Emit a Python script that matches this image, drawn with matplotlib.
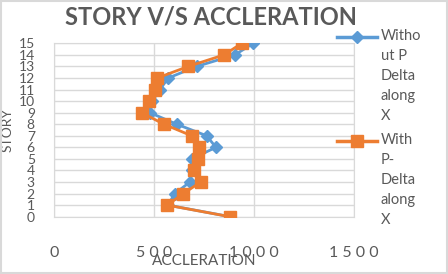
import matplotlib.pyplot as plt
from matplotlib.lines import Line2D
from matplotlib.patches import Rectangle

stories = list(range(16))
accel_without = [880, 568, 603, 678, 690, 687, 808, 762, 612, 478, 490, 528, 570, 712, 903, 995]
accel_with = [878, 565, 645, 732, 698, 720, 725, 687, 548, 437, 475, 503, 515, 670, 849, 937]
x_ticks = [0, 500, 1000, 1500]
label_without = "Witho\nut P\nDelta\nalong\nX"
label_with = "With\nP-\nDelta\nalong\nX"

blue = "#5B9BD5"
orange = "#ED7D31"
grey = "#595959"
grid = "#d9d9d9"

plt.rcParams['font.family'] = ['Lato', 'DejaVu Sans']

fig = plt.figure(figsize=(4.48, 2.74), dpi=100)
ax = fig.add_axes([54.3/448, 1-216.7/274, 300/448, 173.4/274])

ax.plot(accel_without, stories, color=blue, lw=2, marker='D', ms=6.5, zorder=3)
ax.plot(accel_with, stories, color=orange, lw=2, marker='s', ms=9, zorder=4)

ax.set_xlim(0, 1500)
ax.set_ylim(0, 15)
ax.set_xticks(x_ticks)
ax.set_xticklabels([" ".join(str(v)) for v in x_ticks], fontsize=11.5, color=grey)
ax.set_yticks(stories)
ax.set_yticklabels([str(s) for s in stories], fontsize=10, color=grey)
ax.tick_params(length=0)
ax.tick_params(axis='x', pad=21)
ax.tick_params(axis='y', pad=14)
ax.grid(True, color=grid, lw=1)
ax.set_axisbelow(True)
for s in ax.spines.values():
    s.set_color(grid)

ax.set_xlabel("ACCLERATION", fontsize=11, color=grey, labelpad=-4)
ax.set_ylabel("STORY", fontsize=10, color=grey, labelpad=-2)
ax.yaxis.set_label_coords(-0.135, 0.5)

fig.text(211/448, 1-17/274, "STORY V/S ACCLERATION", ha='center', va='center',
         fontsize=17, fontweight='bold', color=grey)

# legend drawn by hand so the handle sits on the first line
for y, col, mk, ms, lab in [(36.7, blue, 'D', 6, label_without), (141, orange, 's', 9, label_with)]:
    fig.add_artist(Line2D([336.7/448, 377.3/448], [1-y/274]*2, color=col, lw=2.5,
                          transform=fig.transFigure))
    fig.add_artist(Line2D([357/448], [1-y/274], color=col, marker=mk, ms=ms,
                          transform=fig.transFigure))
    fig.text(380.7/448, 1-(y-8)/274, lab, ha='left', va='top', fontsize=10.5,
             color=grey, linespacing=1.55)

fig.add_artist(Rectangle((0.003, 0.004), 0.994, 0.992, fill=False, ec=grid, lw=1.5,
                         transform=fig.transFigure))

fig.savefig("out.png", dpi=100)
